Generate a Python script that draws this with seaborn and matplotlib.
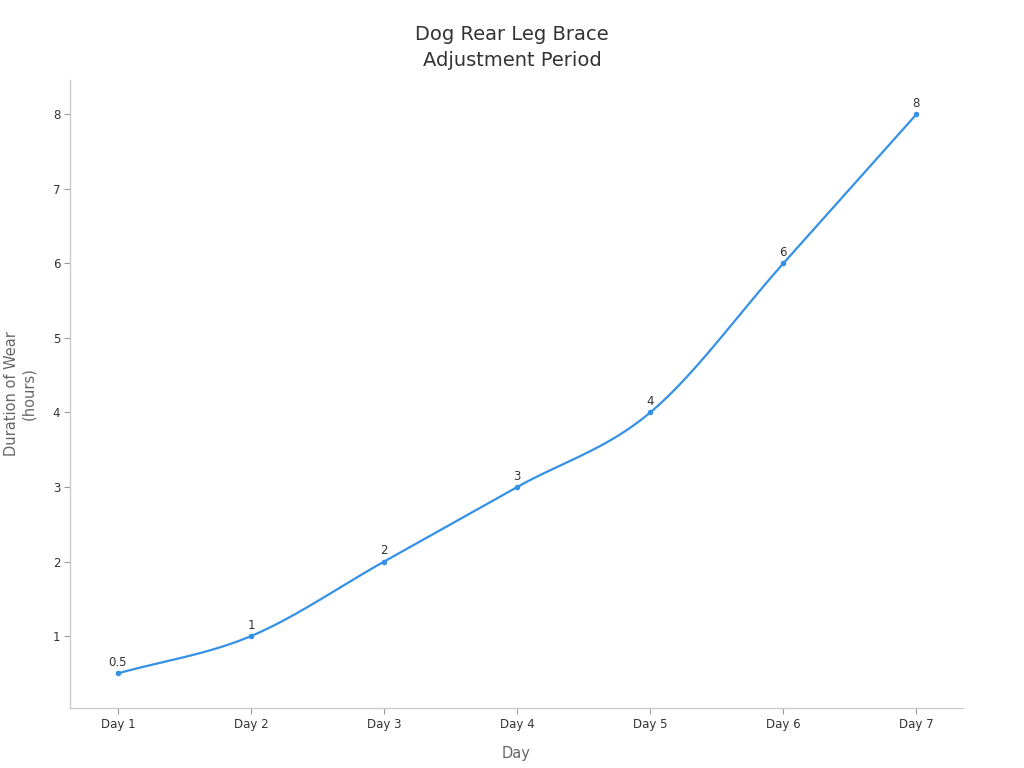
import numpy as np
import pandas as pd
import matplotlib
matplotlib.use("Agg")
import matplotlib.pyplot as plt
import seaborn as sns

days = ["Day 1", "Day 2", "Day 3", "Day 4", "Day 5", "Day 6", "Day 7"]
hours = [0.5, 1, 2, 3, 4, 6, 8]
labels = ["0.5", "1", "2", "3", "4", "6", "8"]

title = "Dog Rear Leg Brace\nAdjustment Period"
xlabel = "Day"
ylabel = "Duration of Wear\n(hours)"
color = "#3591e6"

sns.set_theme(style="white")
plt.rcParams["font.family"] = ["DejaVu Sans"]

fig = plt.figure(figsize=(10.24, 7.68), dpi=100)
ax = fig.add_axes([0.0684, 0.0781, 0.8720, 0.8177])

x = np.arange(len(days), dtype=float)
y = np.array(hours, dtype=float)

# cubic Hermite smoothing of the line through the data points
m = np.empty_like(y)
m[1:-1] = (y[2:] - y[:-2]) / 2
m[0] = y[1] - y[0]
m[-1] = y[-1] - y[-2]
xs, ys = [], []
for i in range(len(x) - 1):
    t = np.linspace(0, 1, 40)
    h00 = 2*t**3 - 3*t**2 + 1
    h10 = t**3 - 2*t**2 + t
    h01 = -2*t**3 + 3*t**2
    h11 = t**3 - t**2
    xs.extend(x[i] + t)
    ys.extend(h00*y[i] + h10*m[i] + h01*y[i+1] + h11*m[i+1])
smooth = pd.DataFrame({"x": xs, "y": ys})
df = pd.DataFrame({"x": x, "y": y})

sns.lineplot(data=smooth, x="x", y="y", ax=ax, color=color, linewidth=1.6,
             sort=False, estimator=None)
sns.scatterplot(data=df, x="x", y="y", ax=ax, color=color, s=16,
                edgecolor=color, linewidth=0, zorder=3)

for xi, yi, lab in zip(x, y, labels):
    ax.annotate(lab, (xi, yi), xytext=(0, 3), textcoords="offset points",
                ha="center", va="bottom", fontsize=8.5, color="#333333")

ax.set_xlim(-0.36, 6.35)
ax.set_ylim(0.035, 8.46)
ax.set_xticks(x)
ax.set_xticklabels(days)
ax.set_yticks([1, 2, 3, 4, 5, 6, 7, 8])
ax.tick_params(axis="both", labelsize=8.5, colors="#333333", length=4,
               width=0.8, color="#999999", left=True, bottom=True, pad=3)
ax.tick_params(axis="x", pad=3)

for s in ["top", "right"]:
    ax.spines[s].set_visible(False)
for s in ["left", "bottom"]:
    ax.spines[s].set_color("#cccccc")
    ax.spines[s].set_linewidth(1)

ax.set_xlabel(xlabel, fontsize=10.5, color="#666666", labelpad=11)
ax.set_ylabel(ylabel, fontsize=10.5, color="#666666", labelpad=12)
fig.suptitle(title, fontsize=14, color="#333333", y=0.967, linespacing=1.45)

fig.savefig("out.png", dpi=100)
